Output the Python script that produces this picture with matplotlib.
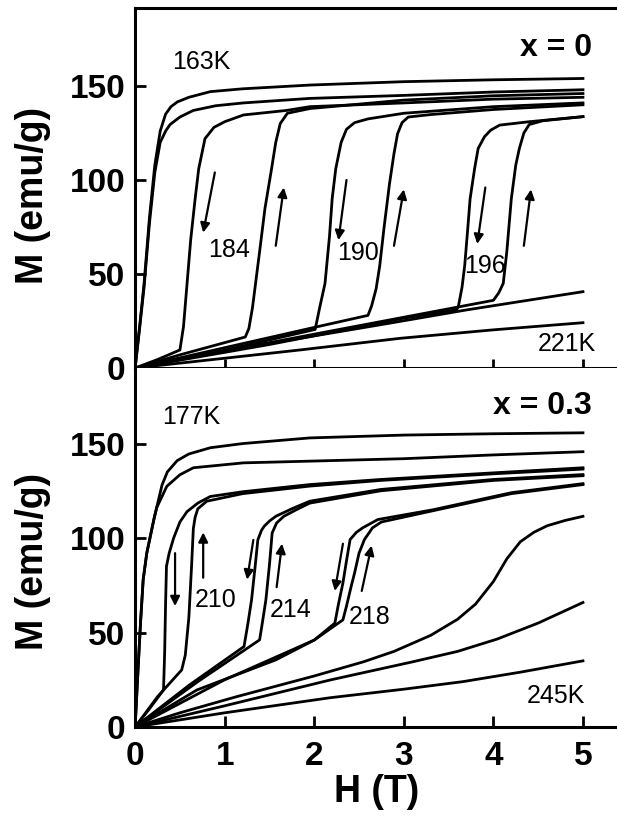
import matplotlib
matplotlib.use('Agg')
import matplotlib.pyplot as plt

plt.rcParams['font.family'] = ['Liberation Sans', 'DejaVu Sans']

# ---- x = 0 panel ----
t163_H = [0, 0.05, 0.1, 0.16, 0.22, 0.28, 0.34, 0.4, 0.47, 0.6, 0.84, 1.2, 1.95, 3.0, 4.0, 5.0]
t163_M = [0, 22, 45, 80, 108, 126, 135, 139, 141.5, 144, 147, 148.5, 150.5, 152.3, 153.3, 154]
t170_H = [0, 0.05, 0.1, 0.16, 0.22, 0.28, 0.34, 0.39, 0.5, 0.65, 0.9, 1.21, 1.95, 3.0, 4.0, 5.0]
t170_M = [0, 21, 43, 77, 104, 120, 126, 129.5, 133.5, 137, 139.5, 141, 143.4, 145, 146.8, 148]
d184_H = [0, 0.25, 0.5, 0.54, 0.58, 0.62, 0.67, 0.71, 0.78, 0.88, 1.0, 1.21, 1.69, 1.95, 3.0, 4.0, 5.0]
d184_M = [0, 4.5, 9.6, 22, 45, 68, 90, 106, 122, 128, 131, 134.6, 137, 139, 141, 143, 144]
u184_H = [0, 0.5, 1.0, 1.23, 1.27, 1.31, 1.35, 1.39, 1.45, 1.52, 1.57, 1.62, 1.7, 1.95, 3.0, 4.0, 5.0]
u184_M = [0, 7, 13.5, 16.5, 21, 32, 47, 62, 85, 105, 120, 130, 135.5, 138, 142.5, 144.8, 146]
d190_H = [0, 1.0, 2.01, 2.06, 2.12, 2.17, 2.2, 2.24, 2.3, 2.36, 2.45, 2.6, 3.0, 4.0, 5.0]
d190_M = [0, 9.5, 20.5, 32, 45, 70, 90, 106, 120, 127, 130.5, 132.5, 135.5, 139, 141]
u190_H = [0, 1.0, 2.0, 2.6, 2.64, 2.69, 2.73, 2.78, 2.84, 2.89, 2.93, 2.98, 3.05, 3.3, 4.0, 5.0]
u190_M = [0, 10.8, 21.6, 28, 33, 42, 54, 75, 98, 114, 124.6, 130.5, 133.5, 134.8, 137.5, 140]
d196_H = [0, 1.5, 3.0, 3.59, 3.61, 3.65, 3.68, 3.71, 3.74, 3.79, 3.83, 3.9, 3.97, 4.07, 4.4, 5.0]
d196_M = [0, 12.5, 26.5, 31, 33, 43, 54.6, 72, 90, 106, 116.8, 123, 126.5, 129.2, 131, 133.7]
u196_H = [0, 2.0, 3.0, 4.0, 4.06, 4.11, 4.15, 4.2, 4.25, 4.29, 4.34, 4.4, 4.55, 5.0]
u196_M = [0, 18, 27, 36, 40, 45, 62, 90, 108, 116.8, 125, 129.5, 131.5, 133.7]
t205_H = [0, 1.0, 1.84, 2.8, 3.7, 5.0]
t205_M = [0, 9.2, 15.8, 23.5, 30.9, 40.6]
t221_H = [0, 1.0, 1.84, 2.96, 4.0, 5.0]
t221_M = [0, 5.2, 9.6, 15.8, 20.3, 24.1]

top_curves = [(t163_H, t163_M), (t170_H, t170_M), (d184_H, d184_M), (u184_H, u184_M),
              (d190_H, d190_M), (u190_H, u190_M), (d196_H, d196_M), (u196_H, u196_M),
              (t205_H, t205_M), (t221_H, t221_M)]
# arrows: (tail H, tail M, head H, head M)
top_arrows = [(0.89, 104, 0.76, 72), (1.57, 65, 1.66, 96),
              (2.36, 100, 2.27, 68), (2.89, 65, 3.0, 95),
              (3.91, 96, 3.82, 66), (4.34, 65, 4.42, 95)]
top_labels = [('163K', 0.41, 163, 'left'), ('184', 0.82, 63, 'left'), ('190', 2.25, 61, 'left'),
              ('196', 3.67, 54, 'left'), ('221K', 5.15, 13, 'right')]

# ---- x = 0.3 panel ----
b177_H = [0, 0.03, 0.06, 0.09, 0.13, 0.17, 0.21, 0.24, 0.3, 0.36, 0.47, 0.6, 0.84, 1.2, 1.95, 3.0, 4.0, 5.0]
b177_M = [0, 28, 55, 78, 92, 101, 110, 116, 128, 135, 141, 144.5, 147.8, 150, 153, 154.5, 155.2, 155.7]
b195_H = [0, 0.03, 0.06, 0.09, 0.13, 0.17, 0.21, 0.24, 0.3, 0.354, 0.5, 0.65, 1.21, 1.95, 3.0, 4.0, 5.0]
b195_M = [0, 28, 55, 78, 92, 101, 110, 116, 122, 127.4, 133.5, 137.2, 139.8, 140.7, 142, 144, 145.7]
d210_H = [0, 0.15, 0.317, 0.33, 0.34, 0.35, 0.38, 0.43, 0.5, 0.58, 0.7, 0.84, 1.2, 1.95, 2.74, 4.0, 5.0]
d210_M = [0, 9, 19.6, 40, 65, 85, 92, 100, 108.5, 114, 118.5, 122, 124.5, 128.3, 131, 134.5, 137.2]
u210_H = [0, 0.25, 0.52, 0.56, 0.6, 0.63, 0.65, 0.67, 0.7, 0.8, 1.2, 1.95, 2.74, 4.0, 5.0]
u210_M = [0, 16, 30.2, 38, 58, 85, 105, 111, 115.5, 119.5, 123.5, 127.5, 130.5, 134, 136.5]
d214_H = [0, 0.6, 1.216, 1.26, 1.3, 1.34, 1.37, 1.41, 1.44, 1.5, 1.57, 1.75, 1.95, 2.74, 4.0, 5.0]
d214_M = [0, 22, 42.6, 55, 67.3, 85, 99, 104, 106.2, 109, 111.5, 115.5, 119.5, 125.7, 131, 133.6]
u214_H = [0, 0.7, 1.39, 1.42, 1.46, 1.5, 1.53, 1.58, 1.66, 1.8, 1.95, 2.74, 4.0, 5.0]
u214_M = [0, 24, 46.1, 55, 67.3, 86, 102.7, 108, 111.5, 115, 118.5, 125, 130.5, 133]
d218_H = [0, 0.69, 1.57, 2.0, 2.23, 2.27, 2.32, 2.36, 2.4, 2.47, 2.54, 2.71, 3.33, 4.2, 5.0]
d218_M = [0, 19.6, 35.5, 46, 55, 65, 76.2, 88, 99.2, 103, 105.4, 109.8, 115, 124, 128.8]
u218_H = [0, 1.0, 2.0, 2.32, 2.36, 2.41, 2.45, 2.5, 2.56, 2.65, 2.75, 3.33, 4.2, 5.0]
u218_M = [0, 25, 46, 56.7, 64, 74, 81.5, 92, 99.2, 105.4, 108.5, 114.5, 123.5, 128.3]
b225_H = [0, 0.5, 1.13, 2.0, 2.55, 2.89, 3.3, 3.6, 3.8, 4.0, 4.15, 4.3, 4.45, 4.6, 4.8, 5.0]
b225_M = [0, 7.5, 16, 27, 34.5, 40, 48.5, 57, 65, 77, 89, 98, 103, 106.5, 109.3, 111.5]
b235_H = [0, 1.0, 2.18, 3.1, 3.6, 4.04, 4.5, 5.0]
b235_M = [0, 11.2, 24.9, 34.5, 40, 46.5, 55, 65.9]
b245_H = [0, 1.0, 2.18, 3.0, 3.66, 4.3, 5.0]
b245_M = [0, 7.5, 15.5, 20, 24, 29, 35]

bot_curves = [(b177_H, b177_M), (b195_H, b195_M), (d210_H, d210_M), (u210_H, u210_M),
              (d214_H, d214_M), (u214_H, u214_M), (d218_H, d218_M), (u218_H, u218_M),
              (b225_H, b225_M), (b235_H, b235_M), (b245_H, b245_M)]
bot_arrows = [(0.446, 92, 0.446, 64), (0.76, 79, 0.76, 103),
              (1.32, 99, 1.25, 78), (1.58, 74, 1.64, 97),
              (2.32, 97, 2.23, 72), (2.53, 72, 2.64, 96)]
bot_labels = [('177K', 0.3, 164, 'left'), ('210', 0.67, 67, 'left'), ('214', 1.5, 62, 'left'),
              ('218', 2.38, 58, 'left'), ('245K', 5.02, 16.5, 'right')]

fig = plt.figure(figsize=(6.17, 8.22), dpi=100)
ax1 = fig.add_axes([0.219, 0.5523, 0.781, 0.438])
ax2 = fig.add_axes([0.219, 0.1156, 0.781, 0.4367])


def draw(ax, curves, arrows, labels, ymax, panel):
    for h, m in curves:
        ax.plot(h, m, color='black', lw=2.0, solid_joinstyle='round')
    for x0, y0, x1, y1 in arrows:
        ax.annotate('', xy=(x1, y1), xytext=(x0, y0),
                    arrowprops=dict(arrowstyle='-|>', color='black', lw=1.6,
                                    mutation_scale=14, shrinkA=0, shrinkB=0))
    for s, x, y, ha in labels:
        ax.text(x, y, s, fontsize=18, ha=ha, va='center')
    ax.text(5.1, 170, panel, fontsize=23, fontweight='bold', ha='right', va='center')
    ax.set_xlim(0, 5.38)
    ax.set_ylim(0, ymax)
    ax.set_yticks([0, 50, 100, 150])
    ax.set_xticks([0, 1, 2, 3, 4, 5])
    ax.spines['right'].set_visible(False)
    for sp in ax.spines.values():
        sp.set_linewidth(2.2)
    ax.tick_params(axis='y', direction='in', length=8, width=2, pad=7, labelsize=24)
    for t in ax.get_yticklabels():
        t.set_fontweight('bold')
    ax.set_ylabel('M (emu/g)', fontsize=27, fontweight='bold')


draw(ax1, top_curves, top_arrows, top_labels, 191.5, 'x = 0')
draw(ax2, bot_curves, bot_arrows, bot_labels, 190, 'x = 0.3')

ax1.tick_params(axis='x', direction='inout', length=13, width=2, labelbottom=False)
ax2.tick_params(axis='x', direction='in', length=8, width=2, pad=10, labelsize=24)
for t in ax2.get_xticklabels():
    t.set_fontweight('bold')
ax2.spines['top'].set_visible(False)
ax2.set_xlabel('H (T)', fontsize=27, fontweight='bold')
ax2.xaxis.set_label_coords(0.502, -0.13)
ax1.yaxis.set_label_coords(-0.174, 0.48)
ax2.yaxis.set_label_coords(-0.174, 0.46)

fig.savefig('out.png', dpi=100)
